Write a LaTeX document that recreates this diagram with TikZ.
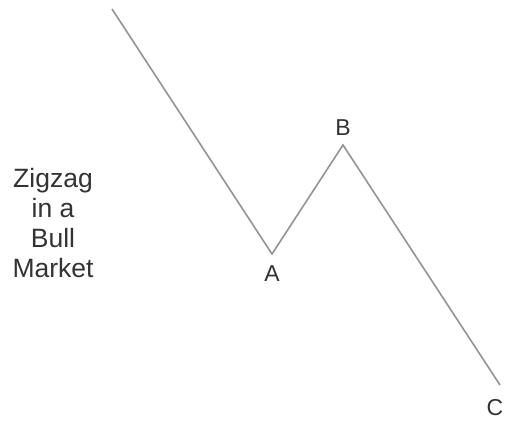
\documentclass[tikz,border=0pt]{standalone}
\usepackage{fontspec}
\setmainfont{Liberation Sans}
\begin{document}
\begin{tikzpicture}[x=1pt,y=-1pt,
  wave/.style={draw=black!42, line width=1.6pt, line join=miter},
  lbl/.style={text=black!80, font=\fontsize{23}{26}\selectfont, inner sep=0pt},
  title/.style={text=black!80, font=\fontsize{26.5}{30}\selectfont, align=center, inner sep=0pt}]
\useasboundingbox[fill=white] (0,0) rectangle (507,423);
\coordinate (S) at (112,9);
\coordinate (A) at (272,254);
\coordinate (B) at (343,145);
\coordinate (C) at (500,385);
\draw[wave] (S) -- (A) -- (B) -- (C);
\node[lbl] (la) at (272,274) {A};
\node[lbl] (lb) at (343,128) {B};
\node[lbl] (lc) at (495,408) {C};
\node[title] (t) at (53,223) {Zigzag\\in a\\Bull\\Market};
\end{tikzpicture}
\end{document}
